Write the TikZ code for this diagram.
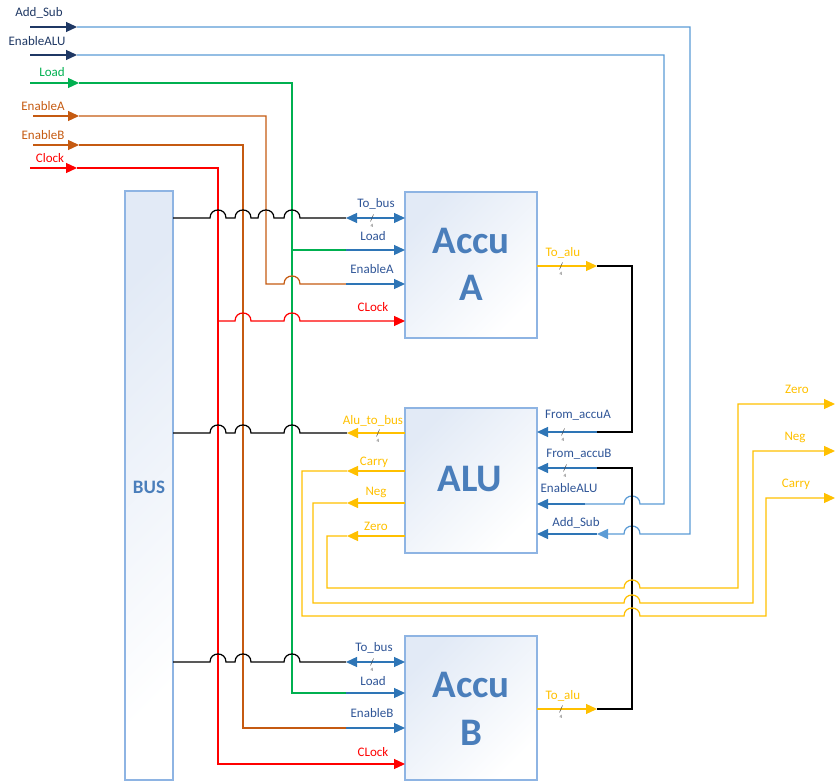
\documentclass[tikz,border=0pt]{standalone}
\usepackage{fontspec}
\setmainfont{Carlito}
\usetikzlibrary{arrows.meta}
\definecolor{navy}{HTML}{1F3864}
\definecolor{lblue}{HTML}{5B9BD5}
\definecolor{pinblue}{HTML}{2E75B6}
\definecolor{lgreen}{HTML}{00B050}
\definecolor{brownish}{HTML}{C55A11}
\definecolor{yel}{HTML}{FFC000}
\definecolor{labnavy}{HTML}{2F5597}
\definecolor{bigtxt}{HTML}{4A7EBB}
\definecolor{boxline}{HTML}{8EB4E3}
\definecolor{boxfill}{HTML}{E2EAF6}
\newcommand\hR[2]{-- (#1-8,#2) .. controls (#1-8,#2-10.7) and (#1+8,#2-10.7) .. (#1+8,#2)}
\newcommand\hL[2]{-- (#1+8,#2) .. controls (#1+8,#2-10.7) and (#1-8,#2-10.7) .. (#1-8,#2)}
\newcommand\lblfont{\fontsize{13}{15}\selectfont}
\tikzset{
  w/.style={line width=1.25pt},
  arr/.style={-{Triangle[length=11pt,width=10pt]}},
  darr/.style={{Triangle[length=11pt,width=10pt]}-{Triangle[length=11pt,width=10pt]}},
  lbl/.style={anchor=base, inner sep=0, font=\lblfont},
  big/.style={anchor=base, inner sep=0, text=bigtxt, font=\fontsize{39}{41}\selectfont\bfseries},
  box/.style={draw=boxline, line width=1.2pt, top color=boxfill, bottom color=white, shading angle=45, inner sep=0, outer sep=0},
  slashmark/.style={draw=black!70, line width=0.5pt},
  four/.style={inner sep=0, font=\fontsize{5}{5}\selectfont, text=black!70},
}
\begin{document}
\begin{tikzpicture}[x=1pt,y=-1pt]
\useasboundingbox (0,0) rectangle (836,783);
% boxes
\node[box, minimum width=48pt, minimum height=589pt] (bus) at (149,485.5) {};
\node[anchor=base, inner sep=0, text=bigtxt, font=\fontsize{19}{21}\selectfont\bfseries] (bustxt) at (149,494) {BUS};
\node[box, minimum width=132pt, minimum height=146pt] (accuA) at (471,265) {};
\node[box, minimum width=132pt, minimum height=145pt] (alu) at (471,480.5) {};
\node[box, minimum width=132pt, minimum height=144pt] (accuB) at (471,708) {};
\node[big] (tA1) at (471,254) {Accu};
\node[big] (tA2) at (471,301) {A};
\node[big] (tALU) at (470,492) {ALU};
\node[big] (tB1) at (471,697) {Accu};
\node[big] (tB2) at (471,745) {B};

% top input labels
\node[lbl, text=navy] (lAS) at (39,17) {Add\_Sub};
\node[lbl, text=navy] (lEALU) at (37,46) {EnableALU};
\node[lbl, text=lgreen] (lLoad) at (52,77) {Load};
\node[lbl, text=brownish] (lEA) at (43,111) {EnableA};
\node[lbl, text=brownish] (lEB) at (43,140) {EnableB};
\node[lbl, text=red] (lClk) at (50,163) {Clock};

% Add_Sub
\draw[w, navy, arr] (30,27) -- (77,27);
\draw[w, lblue, arr] (77,27) -- (690,27) -- (690,534) \hL{632}{534} -- (597,534);
\draw[w, pinblue, arr] (597,534) -- (537,534);
% EnableALU
\draw[w, navy, arr] (30,55) -- (77,55);
\draw[w, lblue] (77,55) -- (664,55) -- (664,504) \hL{632}{504} -- (585,504);
\draw[w, pinblue, arr] (585,504) -- (537,504);
% Load
\draw[w, lgreen, arr] (30,83) -- (79,83);
\draw[w, lgreen] (79,83) -- (292,83) -- (292,693) -- (346,693);
\draw[w, lgreen] (292,250) -- (346,250);
\draw[w, pinblue, arr] (346,250) -- (405,250);
\draw[w, pinblue, arr] (346,693) -- (405,693);
% EnableA
\draw[w, brownish, arr] (33,116) -- (79,116);
\draw[w, brownish] (79,116) -- (266,116) -- (266,284) \hR{292}{284} -- (346,284);
\draw[w, pinblue, arr] (346,284) -- (405,284);
% EnableB
\draw[w, brownish, arr] (33,145) -- (79,145);
\draw[w, brownish] (79,145) -- (243,145) -- (243,728) -- (346,728);
\draw[w, pinblue, arr] (346,728) -- (405,728);
% Clock
\draw[w, red, arr] (30,168) -- (77,168);
\draw[w, red, arr] (77,168) -- (218,168) -- (218,764) -- (405,764);
\draw[w, red, arr] (218,321) \hR{243}{321} \hR{292}{321} -- (405,321);

% bus lines
\draw[w, black] (173,218) \hR{218}{218} \hR{243}{218} \hR{266}{218} \hR{292}{218} -- (346,218);
\draw[w, pinblue, darr] (346,218) -- (405,218);
\draw[w, black] (173,433) \hR{218}{433} \hR{243}{433} \hR{292}{433} -- (347,433);
\draw[w, yel, arr] (405,433) -- (347,433);
\draw[w, black] (173,662) \hR{218}{662} \hR{243}{662} \hR{292}{662} -- (346,662);
\draw[w, pinblue, darr] (346,662) -- (405,662);

% accumulator outputs to ALU
\draw[w, yel, arr] (537,266) -- (597,266);
\draw[w, black] (597,266) -- (632,266) -- (632,432) -- (597,432);
\draw[w, pinblue, arr] (597,432) -- (537,432);
\draw[w, yel, arr] (537,709) -- (597,709);
\draw[w, black] (597,709) -- (632,709) -- (632,468) -- (597,468);
\draw[w, pinblue, arr] (597,468) -- (537,468);

% flags
\draw[w, yel, arr] (405,471) -- (347,471);
\draw[w, yel, arr] (347,471) -- (302,471) -- (302,616) \hR{632}{616} -- (766,616) -- (766,498) -- (835,498);
\draw[w, yel, arr] (405,503) -- (347,503);
\draw[w, yel, arr] (347,503) -- (313,503) -- (313,603) \hR{632}{603} -- (753,603) -- (753,451) -- (835,451);
\draw[w, yel, arr] (405,536) -- (347,536);
\draw[w, yel, arr] (347,536) -- (327,536) -- (327,588) \hR{632}{588} -- (738,588) -- (738,404) -- (835,404);

% slash marks and widths
\foreach \n/\x/\y in {s1/372/218, s2/561/266, s3/378/433, s4/563/432, s5/565/468, s6/372/662, s7/561/709}{
  \draw[slashmark] (\x-1.5,\y+3.5) -- (\x+1.5,\y-3.5);
  \node[four] (\n) at (\x,\y+8) {4};
}

% pin labels Accu A
\node[lbl, text=labnavy] (pA1) at (376,208) {To\_bus};
\node[lbl, text=labnavy] (pA2) at (373,241) {Load};
\node[lbl, text=labnavy] (pA3) at (372,274) {EnableA};
\node[lbl, text=red] (pA4) at (373,312) {CLock};
\node[lbl, text=yel] (pA5) at (563,257) {To\_alu};
% ALU labels
\node[lbl, text=yel] (pL1) at (373,425) {Alu\_to\_bus};
\node[lbl, text=yel] (pL2) at (374,466) {Carry};
\node[lbl, text=yel] (pL3) at (376,496) {Neg};
\node[lbl, text=yel] (pL4) at (376,531) {Zero};
\node[lbl, text=labnavy] (pR1) at (578,419) {From\_accuA};
\node[lbl, text=labnavy] (pR2) at (579,458) {From\_accuB};
\node[lbl, text=labnavy] (pR3) at (569,493) {EnableALU};
\node[lbl, text=labnavy] (pR4) at (576,526) {Add\_Sub};
% outputs
\node[lbl, text=yel] (o1) at (797,394) {Zero};
\node[lbl, text=yel] (o2) at (795,441) {Neg};
\node[lbl, text=yel] (o3) at (796,488) {Carry};
% Accu B labels
\node[lbl, text=labnavy] (pB1) at (374,651) {To\_bus};
\node[lbl, text=labnavy] (pB2) at (373,685) {Load};
\node[lbl, text=labnavy] (pB3) at (372,717) {EnableB};
\node[lbl, text=red] (pB4) at (373,756) {CLock};
\node[lbl, text=yel] (pB5) at (563,699) {To\_alu};
\end{tikzpicture}
\end{document}
